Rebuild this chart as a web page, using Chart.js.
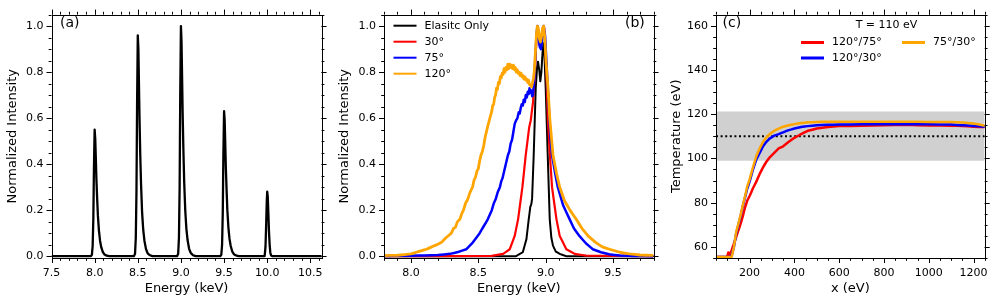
<!DOCTYPE html>
<html>
<head>
<meta charset="utf-8">
<script src="https://cdn.jsdelivr.net/npm/chart.js@4.4.0/dist/chart.umd.min.js"></script>
<style>
  html, body { margin: 0; padding: 0; background: #fff; }
  #wrap { position: relative; width: 997px; height: 304px; overflow: hidden; background: #fff; }
  canvas { position: absolute; top: 0; }
</style>
</head>
<body>
<div id="wrap">
  <canvas id="chart-a" width="332" height="304" style="left:0px"></canvas>
  <canvas id="chart-b" width="332" height="304" style="left:332px"></canvas>
  <canvas id="chart-c" width="333" height="304" style="left:664px"></canvas>
</div>
<script>
// ---- Panel (a): simulated peaks ----
const aEnergy = [
  7.5,
  7.955, 7.968, 7.977, 7.985, 7.992, 8.0, 8.007, 8.013, 8.02, 8.028, 8.038, 8.05, 8.063, 8.077, 8.095, 8.115, 8.14, 8.17,
  8.455, 8.468, 8.477, 8.485, 8.492, 8.5, 8.507, 8.513, 8.52, 8.528, 8.538, 8.55, 8.563, 8.577, 8.595, 8.615, 8.64, 8.67,
  8.955, 8.968, 8.977, 8.985, 8.992, 9.0, 9.007, 9.013, 9.02, 9.028, 9.038, 9.05, 9.063, 9.077, 9.095, 9.115, 9.14, 9.17,
  9.455, 9.468, 9.477, 9.485, 9.492, 9.5, 9.507, 9.513, 9.52, 9.528, 9.538, 9.55, 9.563, 9.577, 9.595, 9.615, 9.64, 9.67,
  9.97, 9.98, 9.988, 9.995, 10.0, 10.006, 10.013, 10.02, 10.028, 10.036, 10.045, 10.06,
  10.65
];
const aIntensity = [
  0,
  0, 0.006, 0.045, 0.165, 0.385, 0.55, 0.51, 0.435, 0.34, 0.26, 0.175, 0.11, 0.066, 0.038, 0.018, 0.007, 0.002, 0,
  0, 0.01, 0.08, 0.29, 0.67, 0.96, 0.9, 0.76, 0.6, 0.45, 0.31, 0.19, 0.115, 0.067, 0.031, 0.012, 0.004, 0,
  0, 0.01, 0.08, 0.3, 0.7, 1.0, 0.93, 0.79, 0.62, 0.47, 0.32, 0.2, 0.12, 0.07, 0.032, 0.013, 0.004, 0,
  0, 0.006, 0.05, 0.19, 0.44, 0.63, 0.59, 0.5, 0.39, 0.3, 0.2, 0.125, 0.075, 0.044, 0.02, 0.008, 0.003, 0,
  0, 0.04, 0.14, 0.24, 0.28, 0.26, 0.19, 0.11, 0.05, 0.015, 0.003, 0,
  0
];
const aXTicks = [7.5, 8.0, 8.5, 9.0, 9.5, 10.0, 10.5];
const intensityTicks = [0.0, 0.2, 0.4, 0.6, 0.8, 1.0];

// ---- Panel (b): spectra at different angles ----
const bElasticE = [7.8, 8.78, 8.83, 8.857, 8.874, 8.886, 8.893, 8.899, 8.911, 8.926, 8.936, 8.943, 8.952, 8.96,
  8.968, 8.976, 8.983, 8.991, 9.0, 9.015, 9.03, 9.042, 9.054, 9.075, 9.104, 9.15, 9.8];
const bElasticI = [0, 0, 0.017, 0.074, 0.16, 0.215, 0.225, 0.25, 0.44, 0.73, 0.82, 0.845, 0.81, 0.76,
  0.8, 0.88, 0.925, 0.87, 0.73, 0.44, 0.16, 0.08, 0.046, 0.02, 0.01, 0, 0];

const b30E = [7.8, 8.6, 8.684, 8.733, 8.77, 8.795, 8.827, 8.852, 8.877, 8.889, 8.906, 8.92, 8.93, 8.938, 8.945,
  8.953, 8.962, 8.972, 8.98, 8.987, 8.995, 9.005, 9.017, 9.03, 9.047, 9.08, 9.104, 9.153, 9.215, 9.3, 9.8];
const b30I = [0, 0.001, 0.01, 0.03, 0.088, 0.16, 0.3, 0.44, 0.558, 0.59, 0.67, 0.8, 0.93, 1.0, 0.97,
  0.92, 0.91, 0.95, 0.99, 1.0, 0.93, 0.8, 0.587, 0.45, 0.3, 0.16, 0.088, 0.03, 0.01, 0.002, 0];

const b75E = [7.8, 8.0, 8.1, 8.2, 8.29, 8.35, 8.41, 8.46, 8.51, 8.54, 8.57, 8.6, 8.615, 8.63, 8.645, 8.66, 8.67,
  8.68, 8.69, 8.7, 8.71, 8.72, 8.73, 8.74, 8.75, 8.76, 8.77, 8.78, 8.79, 8.8, 8.807, 8.815, 8.822, 8.83, 8.837,
  8.845, 8.852, 8.86, 8.867, 8.874, 8.88, 8.887, 8.893, 8.9, 8.906, 8.918, 8.928, 8.938, 8.947, 8.956, 8.965,
  8.975, 8.985, 8.995, 9.005, 9.02, 9.035, 9.047, 9.07, 9.09, 9.13, 9.178, 9.21, 9.25, 9.3, 9.35, 9.41, 9.47,
  9.55, 9.65, 9.8];
const b75I = [0.001, 0.002, 0.003, 0.005, 0.01, 0.018, 0.03, 0.06, 0.10, 0.13, 0.16, 0.2, 0.23, 0.25, 0.28, 0.3, 0.325,
  0.34, 0.365, 0.39, 0.415, 0.44, 0.455, 0.49, 0.505, 0.54, 0.575, 0.59, 0.6, 0.625, 0.62, 0.645, 0.66, 0.655, 0.68,
  0.67, 0.7, 0.69, 0.715, 0.705, 0.73, 0.71, 0.72, 0.695, 0.7, 0.8, 0.92, 1.0, 0.95, 0.91, 0.9,
  0.95, 1.0, 0.96, 0.85, 0.68, 0.52, 0.44, 0.36, 0.30, 0.22, 0.16, 0.12, 0.088, 0.055, 0.03, 0.017, 0.008,
  0.003, 0.001, 0];

const b120E = [7.8, 7.9, 8.0, 8.04, 8.08, 8.116, 8.16, 8.2, 8.227, 8.26, 8.3, 8.315, 8.33, 8.345, 8.363, 8.377, 8.39,
  8.405, 8.42, 8.437, 8.457, 8.468, 8.48, 8.49, 8.5, 8.51, 8.52, 8.53, 8.54, 8.55, 8.56, 8.57, 8.58, 8.59,
  8.6, 8.607, 8.614, 8.621, 8.628, 8.635, 8.642, 8.649, 8.656, 8.663, 8.67, 8.677, 8.684, 8.691, 8.698, 8.705,
  8.712, 8.719, 8.726, 8.733, 8.74, 8.747, 8.754, 8.761, 8.768, 8.775, 8.782, 8.789, 8.796, 8.803, 8.81, 8.817,
  8.824, 8.831, 8.838, 8.845, 8.852, 8.859, 8.866, 8.873, 8.88, 8.887, 8.894, 8.901, 8.908,
  8.915, 8.925, 8.932, 8.938, 8.945, 8.952, 8.96, 8.968, 8.976, 8.985, 8.993, 9.003, 9.017, 9.03,
  9.054, 9.08, 9.104, 9.14, 9.18, 9.227, 9.27, 9.314, 9.37, 9.42, 9.474, 9.55, 9.62, 9.7, 9.8];
const b120I = [0.002, 0.004, 0.01, 0.017, 0.024, 0.03, 0.042, 0.052, 0.06, 0.08, 0.10, 0.12, 0.125, 0.15, 0.16, 0.185, 0.2,
  0.23, 0.245, 0.275, 0.3, 0.33, 0.345, 0.37, 0.38, 0.415, 0.44, 0.455, 0.48, 0.515, 0.54, 0.565, 0.587, 0.61,
  0.63, 0.655, 0.66, 0.69, 0.7, 0.73, 0.725, 0.755, 0.75, 0.78, 0.775, 0.795, 0.79, 0.815, 0.8, 0.82,
  0.81, 0.835, 0.815, 0.835, 0.82, 0.83, 0.815, 0.83, 0.81, 0.82, 0.8, 0.81, 0.795, 0.8, 0.785, 0.795,
  0.78, 0.785, 0.77, 0.78, 0.765, 0.77, 0.755, 0.765, 0.745, 0.745, 0.735, 0.75, 0.77,
  0.8, 0.9, 0.97, 1.0, 0.99, 0.95, 0.93, 0.95, 0.99, 1.0, 0.95, 0.84, 0.73, 0.6,
  0.44, 0.36, 0.30, 0.24, 0.2, 0.16, 0.12, 0.088, 0.06, 0.04, 0.03, 0.017, 0.01, 0.005, 0.003];
const bXTicks = [8.0, 8.5, 9.0, 9.5];

// ---- Panel (c): temperature from ratios ----
const cX = [50, 100, 105, 110, 120, 130, 140, 150, 160, 170, 180, 190, 200, 215, 230, 245, 260, 275, 290, 310,
  330, 350, 375, 400, 430, 460, 500, 550, 600, 700, 800, 900, 1000, 1100, 1150, 1200, 1250];
const cRatio120_75 = [55.5, 55.5, 57.5, 56, 58.5, 61.5, 64.5, 67.5, 70.5, 74, 78, 81, 83, 86.5, 89.5, 93, 96, 98.5, 100.5, 102.5,
  104.5, 105.5, 107.5, 109.3, 111, 112.5, 113.5, 114.2, 114.6, 114.8, 115, 115.2, 114.9, 114.8, 114.7, 114.3, 114.2];
const cRatio120_30 = [55.5, 55.5, 55.5, 55.5, 56, 60, 66, 70, 74, 78.5, 82.5, 86.5, 89.5, 95, 99.5, 102.5, 105.5, 107.5, 109, 110.3,
  111, 111.8, 112.8, 113.5, 114.2, 114.6, 115, 115.2, 115.3, 115.4, 115.5, 115.5, 115.4, 115.3, 115, 114.7, 114.3];
const cRatio75_30 = [55.5, 55.5, 55.5, 55.5, 55.5, 60, 66.7, 70.5, 74.5, 79, 83, 87.5, 90.5, 96, 101, 104.5, 107.5, 109.5, 111, 112.5,
  113.5, 114.3, 115, 115.5, 116, 116.3, 116.5, 116.6, 116.6, 116.6, 116.6, 116.6, 116.5, 116.5, 116.2, 115.8, 114.8];
const cTrueT = 110;
const cBand = [99, 121.2];
const cXRange = [50, 1250];
const cXTicks = [200, 400, 600, 800, 1000, 1200];
const cYTicks = [60, 80, 100, 120, 140, 160];

Chart.defaults.font.family = "'DejaVu Sans', sans-serif";
Chart.defaults.color = "#000";
Chart.defaults.animation = false;

const pts = (xs, ys) => xs.map((x, i) => ({ x, y: ys[i] }));

// frame, outward ticks on all four sides, panel labels and a hand-placed legend
const framePlugin = {
  id: "frame",
  afterDraw(chart, args, opts) {
    const { ctx, chartArea: a, scales } = chart;
    const sx = scales.x, sy = scales.y;
    ctx.save();
    ctx.strokeStyle = "#000";
    ctx.lineWidth = 1;
    const minors = (s, step) => {
      const out = [];
      for (let i = Math.ceil(s.min / step - 1e-9); i * step <= s.max + 1e-9; i++) out.push(i * step);
      return out;
    };
    const xTick = (v, len) => {
      const p = Math.round(sx.getPixelForValue(v)) + 0.5;
      ctx.beginPath();
      ctx.moveTo(p, a.bottom); ctx.lineTo(p, a.bottom + len);
      ctx.moveTo(p, a.top); ctx.lineTo(p, a.top - len);
      ctx.stroke();
    };
    const yTick = (v, len) => {
      const p = Math.round(sy.getPixelForValue(v)) + 0.5;
      ctx.beginPath();
      ctx.moveTo(a.left - len, p); ctx.lineTo(a.left, p);
      ctx.moveTo(a.right, p); ctx.lineTo(a.right + len, p);
      ctx.stroke();
    };
    minors(sx, opts.xMinor).forEach(v => xTick(v, 2.8));
    minors(sy, opts.yMinor).forEach(v => yTick(v, 2.8));
    sx.ticks.forEach(t => xTick(t.value, 5));
    sy.ticks.forEach(t => yTick(t.value, 5));
    ctx.strokeRect(Math.round(a.left) + 0.5, Math.round(a.top) + 0.5,
      Math.round(a.right - a.left), Math.round(a.bottom - a.top));

    // panel label
    ctx.fillStyle = "#000";
    ctx.textBaseline = "middle";
    ctx.textAlign = "left";
    ctx.font = "14px 'DejaVu Sans'";
    ctx.fillText(opts.tag.text, opts.tag.x, opts.tag.y);

    // legend
    const lg = opts.legend;
    if (lg) {
      ctx.font = "11px 'DejaVu Sans'";
      if (lg.title) {
        ctx.textAlign = "center";
        ctx.fillText(lg.title.text, lg.title.x, lg.title.y);
      }
      ctx.textAlign = "left";
      lg.items.forEach(it => {
        const ds = chart.data.datasets[it.ds];
        const x0 = lg.x + it.col * lg.colDx;
        const y0 = lg.y + it.row * lg.dy;
        ctx.strokeStyle = ds.borderColor;
        ctx.lineWidth = lg.lineWidth;
        ctx.beginPath();
        ctx.moveTo(x0, y0); ctx.lineTo(x0 + lg.len, y0);
        ctx.stroke();
        ctx.fillStyle = "#000";
        ctx.fillText(ds.label, x0 + lg.len + lg.gap, y0);
      });
    }
    ctx.restore();
  }
};

function axes(cfg) {
  return {
    x: {
      type: "linear", min: cfg.xr[0], max: cfg.xr[1],
      grid: { display: false, drawTicks: false }, border: { display: false },
      afterBuildTicks: s => { s.ticks = cfg.xTicks.map(v => ({ value: v })); },
      afterFit: s => { s.height = 46; },
      ticks: { font: { size: 11 }, padding: 9, autoSkip: false, maxRotation: 0, callback: cfg.xFmt },
      title: { display: true, text: cfg.xTitle, font: { size: 13 }, padding: { top: 0, bottom: 8 } }
    },
    y: {
      type: "linear", min: cfg.yr[0], max: cfg.yr[1],
      grid: { display: false, drawTicks: false }, border: { display: false },
      afterBuildTicks: s => { s.ticks = cfg.yTicks.map(v => ({ value: v })); },
      afterFit: s => { s.width = cfg.yWidth; },
      ticks: { font: { size: 11 }, padding: 8, autoSkip: false, callback: cfg.yFmt },
      title: { display: true, text: cfg.yTitle, font: { size: 13 }, padding: { top: 4.5, bottom: 0 } }
    }
  };
}

// tiny tension keeps Chart.js off its per-pixel fast path, which notches narrow peaks
const line = (label, data, color, width, order) => ({
  label, data, borderColor: color, backgroundColor: color, borderWidth: width,
  borderJoinStyle: "round", pointRadius: 0, tension: 0.0001, fill: false, order
});

// ---- Panel (a) ----
new Chart(document.getElementById("chart-a"), {
  type: "line",
  data: { datasets: [line("sim", pts(aEnergy, aIntensity), "#000", 2.3, 0)] },
  options: {
    responsive: false,
    layout: { padding: { top: 11.5, right: 9.5, left: 0, bottom: 0 } },
    scales: axes({
      xr: [7.5, 10.63], yr: [-0.008, 1.05], xTicks: aXTicks, yTicks: intensityTicks,
      xFmt: v => v.toFixed(1), yFmt: v => v.toFixed(1),
      xTitle: "Energy (keV)", yTitle: "Normalized Intensity", yWidth: 51.5
    }),
    plugins: {
      legend: { display: false }, tooltip: { enabled: false },
      frame: { xMinor: 0.1, yMinor: 0.05, tag: { text: "(a)", x: 60, y: 23 } }
    }
  },
  plugins: [framePlugin]
});

// ---- Panel (b) ----
new Chart(document.getElementById("chart-b"), {
  type: "line",
  data: {
    datasets: [
      line("Elasitc Only", pts(bElasticE, bElasticI), "#000000", 2, 3),
      line("30°", pts(b30E, b30I), "#ff0000", 2.2, 2),
      line("75°", pts(b75E, b75I), "#0000ff", 2.5, 1),
      line("120°", pts(b120E, b120I), "#ffa500", 2.8, 0)
    ]
  },
  options: {
    responsive: false,
    layout: { padding: { top: 11.5, right: 10.5, left: 0, bottom: 0 } },
    scales: axes({
      xr: [7.8, 9.8], yr: [-0.008, 1.05], xTicks: bXTicks, yTicks: intensityTicks,
      xFmt: v => v.toFixed(1), yFmt: v => v.toFixed(1),
      xTitle: "Energy (keV)", yTitle: "Normalized Intensity", yWidth: 52
    }),
    plugins: {
      legend: { display: false }, tooltip: { enabled: false },
      frame: {
        xMinor: 0.1, yMinor: 0.05, tag: { text: "(b)", x: 293, y: 23 },
        legend: {
          x: 61.5, y: 25.7, dy: 16, colDx: 0, len: 23, gap: 8, lineWidth: 2,
          items: [{ ds: 0, col: 0, row: 0 }, { ds: 1, col: 0, row: 1 }, { ds: 2, col: 0, row: 2 }, { ds: 3, col: 0, row: 3 }]
        }
      }
    }
  },
  plugins: [framePlugin]
});

// ---- Panel (c) ----
new Chart(document.getElementById("chart-c"), {
  type: "line",
  data: {
    datasets: [
      line("120°/75°", pts(cX, cRatio120_75), "#ff0000", 2.5, 2),
      line("120°/30°", pts(cX, cRatio120_30), "#0000ff", 2.5, 1),
      line("75°/30°", pts(cX, cRatio75_30), "#ffa500", 2.5, 0),
      { label: "T", data: pts(cXRange, [cTrueT, cTrueT]), borderColor: "#000", borderWidth: 2,
        borderDash: [2, 2.6], pointRadius: 0, fill: false, order: 5 },
      { label: "band hi", data: pts(cXRange, [cBand[1], cBand[1]]), borderWidth: 0, borderColor: "rgba(0,0,0,0)",
        backgroundColor: "#d0d0d0", pointRadius: 0, fill: "+1", order: 9 },
      { label: "band lo", data: pts(cXRange, [cBand[0], cBand[0]]), borderWidth: 0, borderColor: "rgba(0,0,0,0)",
        pointRadius: 0, fill: false, order: 10 }
    ]
  },
  options: {
    responsive: false,
    layout: { padding: { top: 11.5, right: 11, left: 0, bottom: 0 } },
    scales: axes({
      xr: cXRange, yr: [55, 165], xTicks: cXTicks, yTicks: cYTicks,
      xFmt: v => String(v), yFmt: v => String(v),
      xTitle: "x (eV)", yTitle: "Temperature (eV)", yWidth: 52
    }),
    plugins: {
      legend: { display: false }, tooltip: { enabled: false },
      frame: {
        xMinor: 50, yMinor: 5, tag: { text: "(c)", x: 58.5, y: 23 },
        legend: {
          title: { text: "T = 110 eV", x: 222.5, y: 25 },
          x: 137, y: 42.5, dy: 15.5, colDx: 101, len: 23, gap: 8, lineWidth: 3,
          items: [{ ds: 0, col: 0, row: 0 }, { ds: 1, col: 0, row: 1 }, { ds: 2, col: 1, row: 0 }]
        }
      }
    }
  },
  plugins: [framePlugin]
});
</script>
</body>
</html>
